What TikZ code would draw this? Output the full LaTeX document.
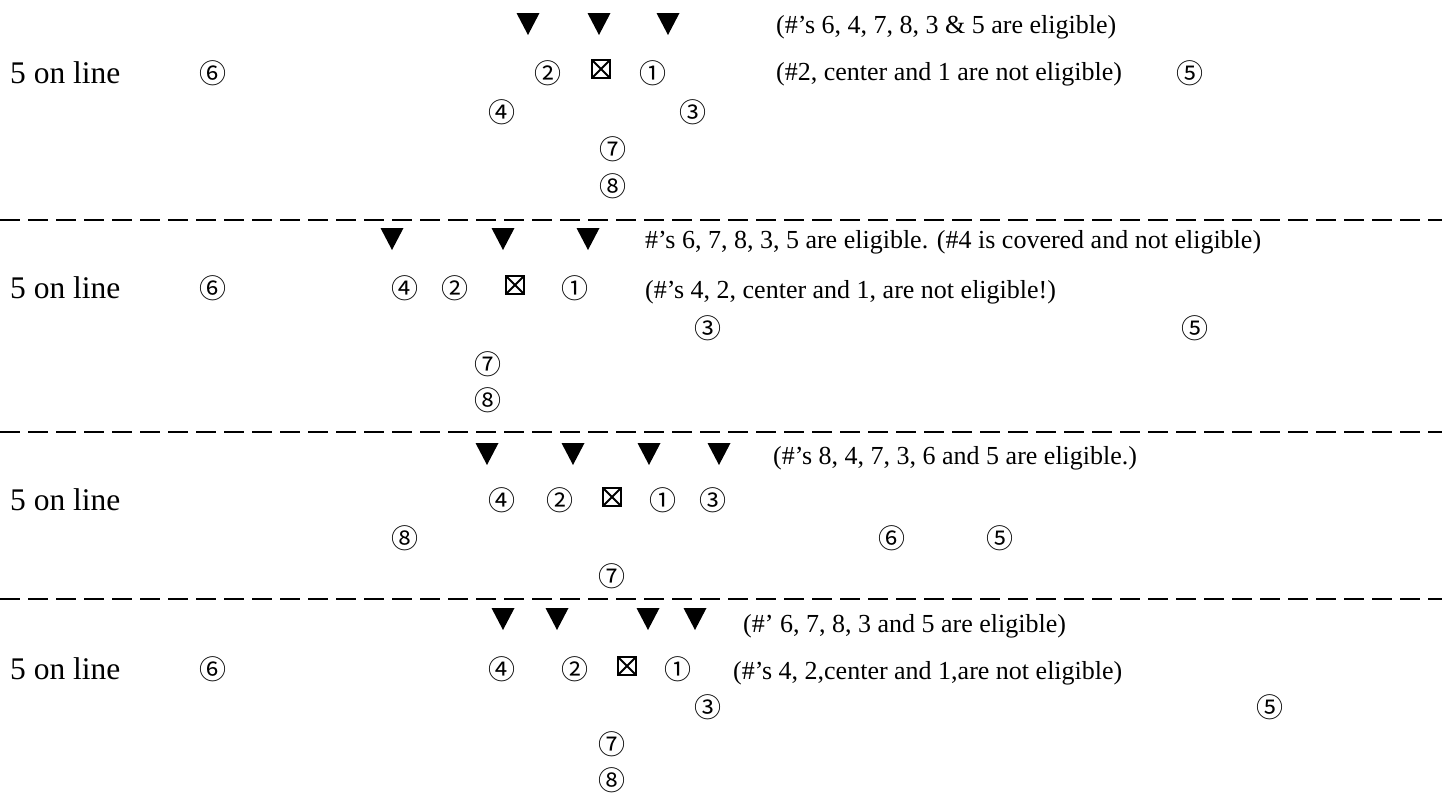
\documentclass[tikz,border=0pt]{standalone}
\usepackage{fontspec}
\setmainfont{Liberation Serif}
\newfontfamily\cjkfont{Noto Sans CJK JP}
\newcommand\lbfont{\fontsize{31.5}{36}\selectfont}
\newcommand\txfont{\fontsize{26}{30}\selectfont}
\newcommand\numfont{\cjkfont\fontsize{27}{30}\selectfont}
\begin{document}
\begin{tikzpicture}[x=1pt,y=-1pt,
  lbl/.style={font=\lbfont, anchor=base west, inner sep=0pt},
  txt/.style={font=\txfont, anchor=west, inner sep=0pt},
  num/.style={font=\numfont, inner sep=0pt},
  ctr/.style={draw, line width=2.8pt, minimum size=18pt, inner sep=0pt,
    path picture={\draw[line width=1.8pt]
      (path picture bounding box.north west) -- (path picture bounding box.south east)
      (path picture bounding box.north east) -- (path picture bounding box.south west);}},
  sep/.style={line width=2pt, dash pattern=on 20pt off 8pt},
  tri/.pic={\fill (-11.5,-11) -- (11.5,-11) -- (0,11) -- cycle;}
]
\useasboundingbox (0,0) rectangle (1442,793);

% ---------- section 1 ----------
\foreach \x in {528,599,668} \pic at (\x,24) {tri};
\node[txt] (s1a) at (776,27) {(\#’s 6, 4, 7, 8, 3 \& 5 are eligible)};
\node[lbl] (s1l) at (10,83) {5 on line};
\node[num] (s1n6) at (213,73) {⑥};
\node[num] (s1n2) at (548,73) {②};
\node[ctr] (s1c) at (601,69) {};
\node[num] (s1n1) at (653,73) {①};
\node[txt] (s1b) at (776,74) {(\#2, center and 1 are not eligible)};
\node[num] (s1n5) at (1190,73) {⑤};
\node[num] (s1n4) at (502,112) {④};
\node[num] (s1n3) at (693,112) {③};
\node[num] (s1n7) at (613,149) {⑦};
\node[num] (s1n8) at (613,186) {⑧};
\draw[sep] (0,220) -- (1442,220);

% ---------- section 2 ----------
\foreach \x in {392,503,588} \pic at (\x,239) {tri};
\node[txt] (s2a) at (645,242) {\#’s 6, 7, 8, 3, 5 are eligible. (\#4 is covered and not eligible)};
\node[lbl] (s2l) at (10,298) {5 on line};
\node[num] (s2n6) at (213,288) {⑥};
\node[num] (s2n4) at (405,288) {④};
\node[num] (s2n2) at (455,288) {②};
\node[ctr] (s2c) at (515,285) {};
\node[num] (s2n1) at (575,288) {①};
\node[txt] (s2b) at (645,292) {(\#’s 4, 2, center and 1, are not eligible!)};
\node[num] (s2n3) at (708,328) {③};
\node[num] (s2n5) at (1195,328) {⑤};
\node[num] (s2n7) at (488,364) {⑦};
\node[num] (s2n8) at (488,400) {⑧};
\draw[sep] (0,432) -- (1442,432);

% ---------- section 3 ----------
\foreach \x in {487,573,649,719} \pic at (\x,454) {tri};
\node[txt] (s3a) at (773,458) {(\#’s 8, 4, 7, 3, 6 and 5 are eligible.)};
\node[lbl] (s3l) at (10,510) {5 on line};
\node[num] (s3n4) at (502,500) {④};
\node[num] (s3n2) at (560,500) {②};
\node[ctr] (s3c) at (612,497) {};
\node[num] (s3n1) at (663,500) {①};
\node[num] (s3n3) at (713,500) {③};
\node[num] (s3n8) at (405,538) {⑧};
\node[num] (s3n6) at (892,538) {⑥};
\node[num] (s3n5) at (1000,538) {⑤};
\node[num] (s3n7) at (612,576) {⑦};
\draw[sep] (0,599) -- (1442,599);

% ---------- section 4 ----------
\foreach \x in {503,557,648,695} \pic at (\x,619) {tri};
\node[txt] (s4a) at (743,626) {(\#’ 6, 7, 8, 3 and 5 are eligible)};
\node[lbl] (s4l) at (10,679) {5 on line};
\node[num] (s4n6) at (213,669) {⑥};
\node[num] (s4n4) at (502,669) {④};
\node[num] (s4n2) at (575,669) {②};
\node[ctr] (s4c) at (627,666) {};
\node[num] (s4n1) at (678,669) {①};
\node[txt] (s4b) at (733,673) {(\#’s 4, 2,center and 1,are not eligible)};
\node[num] (s4n3) at (708,707) {③};
\node[num] (s4n5) at (1270,707) {⑤};
\node[num] (s4n7) at (612,744) {⑦};
\node[num] (s4n8) at (612,780) {⑧};
\end{tikzpicture}
\end{document}
